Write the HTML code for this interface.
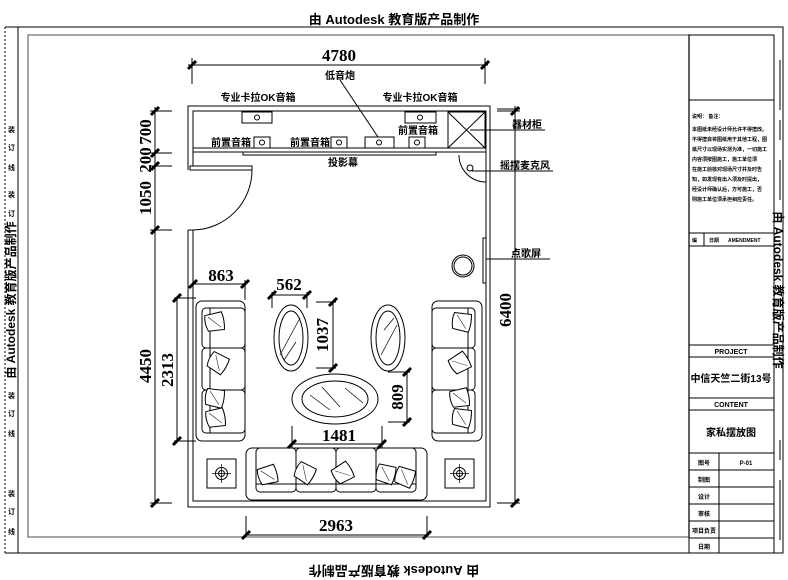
<!DOCTYPE html>
<html><head><meta charset="utf-8"><style>
html,body{margin:0;padding:0;background:#fff;}
svg{display:block;}
text{font-family:"Liberation Sans","Noto Sans CJK SC",sans-serif;font-weight:bold;fill:#000;}
.dim{font-family:"Liberation Serif","Noto Serif CJK SC",serif;font-size:17px;font-weight:bold;}
</style></head><body>
<svg width="788" height="580" viewBox="0 0 788 580" xmlns="http://www.w3.org/2000/svg">
<defs>
<g id="tk"><line x1="-4" y1="4" x2="4" y2="-4" stroke="#000" stroke-width="3"/></g>
<g id="pil"><path d="M-9,-8 L8,-9 Q10,0 8,9 L-8,8 Q-11,0 -9,-8Z" fill="#fff" stroke="#000" stroke-width="1"/><line x1="-6" y1="-6" x2="5" y2="6" stroke="#000" stroke-width="0.5"/></g>
<g id="sq"><rect x="0" y="0" width="29" height="29" fill="none" stroke="#000" stroke-width="1"/><circle cx="14.5" cy="14.5" r="6" fill="none" stroke="#000"/><circle cx="14.5" cy="14.5" r="3" fill="none" stroke="#000"/><line x1="5" y1="14.5" x2="24" y2="14.5" stroke="#000" stroke-width="0.7"/><line x1="14.5" y1="5" x2="14.5" y2="24" stroke="#000" stroke-width="0.7"/></g>
</defs>
<!-- watermark top/bottom -->
<text x="394" y="24" font-size="13" text-anchor="middle">由 Autodesk 教育版产品制作</text>
<text x="394" y="-566" font-size="13" text-anchor="middle" transform="scale(-1,-1) translate(-788,0)">由 Autodesk 教育版产品制作</text>
<!-- outer border -->
<rect x="18" y="27" width="765" height="526" fill="none" stroke="#000" stroke-width="1"/>
<line x1="5" y1="27" x2="5" y2="553" stroke="#000" stroke-dasharray="2,2"/>
<line x1="5" y1="27" x2="18" y2="27" stroke="#000"/>
<line x1="5" y1="553" x2="18" y2="553" stroke="#000"/>
<text font-size="12" transform="translate(15,300) rotate(-90)" text-anchor="middle">由 Autodesk 教育版产品制作</text>
<g font-size="7">
<text x="8" y="132">装</text><text x="8" y="150">订</text><text x="8" y="170">线</text>
<text x="8" y="197">装</text><text x="8" y="216">订</text>
<text x="8" y="398">装</text><text x="8" y="416">订</text><text x="8" y="436">线</text>
<text x="8" y="496">装</text><text x="8" y="514">订</text><text x="8" y="534">线</text>
</g>
<text font-size="12" transform="translate(774,290) rotate(90)" text-anchor="middle">由 Autodesk 教育版产品制作</text>
<g stroke="#000"><line x1="780" y1="60" x2="780" y2="110"/><line x1="780" y1="120" x2="780" y2="140"/><line x1="780" y1="160" x2="780" y2="200"/><line x1="780" y1="440" x2="780" y2="460"/><line x1="780" y1="480" x2="780" y2="540"/></g>
<!-- inner frame -->
<rect x="28" y="35" width="661" height="502" fill="none" stroke="#888" stroke-width="1.5"/>
<!-- title block -->
<g stroke="#000" fill="none" stroke-width="1">
<rect x="689" y="35" width="85" height="518"/>
<line x1="689" y1="100" x2="774" y2="100"/>
<line x1="689" y1="233" x2="774" y2="233"/>
<line x1="689" y1="246" x2="774" y2="246"/>
<line x1="704" y1="233" x2="704" y2="246"/>
<line x1="689" y1="345" x2="774" y2="345"/>
<line x1="689" y1="357" x2="774" y2="357"/>
<line x1="689" y1="398" x2="774" y2="398"/>
<line x1="689" y1="410" x2="774" y2="410"/>
<line x1="689" y1="453" x2="774" y2="453"/>
<line x1="689" y1="470" x2="774" y2="470"/>
<line x1="689" y1="487" x2="774" y2="487"/>
<line x1="689" y1="504" x2="774" y2="504"/>
<line x1="689" y1="521" x2="774" y2="521"/>
<line x1="689" y1="538" x2="774" y2="538"/>
<line x1="719" y1="453" x2="719" y2="553"/>
</g>
<g font-size="5">
<text x="692" y="118">说明： 备注：</text>
<text x="692" y="131">本图纸未经设计师允许不得擅改。</text>
<text x="692" y="141">不得擅自将图纸用于其他工程，图</text>
<text x="692" y="151">纸尺寸以现场实测为准，一切施工</text>
<text x="692" y="161">内容须按图施工，施工单位须</text>
<text x="692" y="171">在施工前核对现场尺寸并及时告</text>
<text x="692" y="181">知，如发现有出入须及时提出，</text>
<text x="692" y="191">经设计师确认后，方可施工，否</text>
<text x="692" y="201">则施工单位须承担相应责任。</text>
<text x="692" y="242">编</text><text x="709" y="242">日期</text><text x="728" y="242">AMENDMENT</text>
</g>
<text x="731" y="354" font-size="7" text-anchor="middle">PROJECT</text>
<text x="731" y="382" font-size="10" text-anchor="middle">中信天竺二街13号</text>
<text x="731" y="407" font-size="7" text-anchor="middle">CONTENT</text>
<text x="731" y="436" font-size="10" text-anchor="middle">家私摆放图</text>
<g font-size="6">
<text x="704" y="465" text-anchor="middle">图号</text><text x="746" y="465" text-anchor="middle">P-01</text>
<text x="704" y="482" text-anchor="middle">制图</text>
<text x="704" y="499" text-anchor="middle">设计</text>
<text x="704" y="516" text-anchor="middle">审核</text>
<text x="704" y="533" text-anchor="middle">项目负责</text>
<text x="704" y="549" text-anchor="middle">日期</text>
</g>
<!-- room walls -->
<g fill="none" stroke="#000" stroke-width="1">
<polyline points="188,170 188,106 490,106 490,507 188,507 188,230"/>
<polyline points="193,166 193,111 486,111 486,501 193,501 193,230"/>
<line x1="188" y1="230" x2="193" y2="230"/>
<!-- door leaf -->
<rect x="190" y="166" width="62" height="4"/>
<path d="M252,170 A60,60 0 0 1 193,230"/>
<!-- cabinet strip -->
<line x1="193" y1="148" x2="486" y2="148"/>
<line x1="193" y1="152" x2="486" y2="152"/>
<rect x="243" y="152" width="193" height="3"/>
<!-- equipment cabinet -->
<rect x="448" y="112" width="37" height="36"/>
<line x1="448" y1="112" x2="485" y2="148"/><line x1="485" y1="112" x2="448" y2="148"/>
<!-- speakers -->
<rect x="242" y="112" width="30" height="11"/><circle cx="257" cy="117.5" r="2.5"/>
<rect x="405" y="112" width="31" height="11"/><circle cx="420" cy="117.5" r="2.5"/>
<rect x="254" y="137" width="16" height="11"/><circle cx="262" cy="142.5" r="2.5"/>
<rect x="331" y="137" width="16" height="11"/><circle cx="339" cy="142.5" r="2.5"/>
<rect x="365" y="137" width="29" height="11"/><circle cx="379" cy="142.5" r="2.5"/>
<rect x="409" y="137" width="16" height="11"/><circle cx="417" cy="142.5" r="2.5"/>
<!-- mic -->
<path d="M459,155 A27,27 0 0 0 486,182"/>
<circle cx="470" cy="168" r="3"/>
<!-- song screen -->
<rect x="483" y="238" width="3" height="45"/>
<circle cx="463" cy="266" r="11"/>
<circle cx="463" cy="266" r="9"/>
<!-- ellipses -->
<ellipse cx="291" cy="338" rx="17" ry="33"/><ellipse cx="291" cy="338" rx="12" ry="27"/>
<ellipse cx="388" cy="338" rx="17" ry="33"/><ellipse cx="388" cy="338" rx="12" ry="27"/>
<ellipse cx="335" cy="399" rx="43" ry="25"/><ellipse cx="335" cy="399" rx="33" ry="18"/>
<line x1="280" y1="355" x2="300" y2="318" stroke-width="0.7"/><line x1="284" y1="360" x2="296" y2="342" stroke-width="0.7"/>
<line x1="381" y1="355" x2="397" y2="325" stroke-width="0.7"/><line x1="384" y1="330" x2="394" y2="318" stroke-width="0.7"/>
<line x1="310" y1="395" x2="330" y2="410" stroke-width="0.7"/><line x1="322" y1="387" x2="340" y2="407" stroke-width="0.7"/><line x1="345" y1="388" x2="363" y2="403" stroke-width="0.7"/>
<!-- left sofa -->
<rect x="196" y="301" width="49" height="140" rx="6"/>
<rect x="202" y="308" width="43" height="40" rx="4"/>
<rect x="202" y="348" width="43" height="42" rx="4"/>
<rect x="202" y="390" width="43" height="43" rx="4"/>
<line x1="210" y1="308" x2="210" y2="433"/>
<!-- right sofa -->
<rect x="432" y="301" width="50" height="140" rx="6"/>
<rect x="432" y="308" width="43" height="40" rx="4"/>
<rect x="432" y="348" width="43" height="42" rx="4"/>
<rect x="432" y="390" width="43" height="43" rx="4"/>
<line x1="468" y1="308" x2="468" y2="433"/>
<!-- bottom sofa -->
<rect x="246" y="448" width="181" height="52" rx="6"/>
<rect x="256" y="448" width="40" height="44" rx="4"/>
<rect x="296" y="448" width="40" height="44" rx="4"/>
<rect x="336" y="448" width="40" height="44" rx="4"/>
<rect x="376" y="448" width="40" height="44" rx="4"/>
<line x1="256" y1="484" x2="416" y2="484"/>
</g>
<use href="#pil" transform="translate(215,322) rotate(-10)"/>
<use href="#pil" transform="translate(218,363) rotate(30)"/>
<use href="#pil" transform="translate(215,398) rotate(10)"/>
<use href="#pil" transform="translate(216,418) rotate(-10)"/>
<use href="#pil" transform="translate(462,322) rotate(10)"/>
<use href="#pil" transform="translate(460,363) rotate(-30)"/>
<use href="#pil" transform="translate(460,398) rotate(-10)"/>
<use href="#pil" transform="translate(462,418) rotate(10)"/>
<use href="#pil" transform="translate(268,475) rotate(-15)"/>
<use href="#pil" transform="translate(305,473) rotate(30)"/>
<use href="#pil" transform="translate(343,473) rotate(-30)"/>
<use href="#pil" transform="translate(386,474) rotate(15)"/>
<use href="#pil" transform="translate(405,477) rotate(20)"/>
<use href="#sq" transform="translate(207,459)"/>
<use href="#sq" transform="translate(445,459)"/>
<!-- dimension lines -->
<g stroke="#000" stroke-width="1" fill="none">
<line x1="188" y1="65" x2="488" y2="65"/><line x1="192" y1="58" x2="192" y2="84"/><line x1="485" y1="58" x2="485" y2="84"/>
<line x1="155" y1="107" x2="155" y2="505"/>
<line x1="150" y1="111" x2="172" y2="111"/><line x1="150" y1="153" x2="172" y2="153"/><line x1="150" y1="166" x2="172" y2="166"/><line x1="150" y1="230" x2="172" y2="230"/><line x1="150" y1="503" x2="172" y2="503"/>
<line x1="515" y1="106" x2="515" y2="505"/><line x1="497" y1="503" x2="520" y2="503"/><line x1="497" y1="111" x2="520" y2="111"/>
<line x1="246" y1="516" x2="246" y2="537"/><line x1="427" y1="516" x2="427" y2="537"/><line x1="244" y1="535" x2="429" y2="535"/>
<line x1="177" y1="298" x2="177" y2="441"/><line x1="174" y1="298" x2="196" y2="298"/><line x1="174" y1="441" x2="196" y2="441"/>
<line x1="193" y1="284" x2="245" y2="284"/><line x1="193" y1="280" x2="193" y2="300"/><line x1="245" y1="280" x2="245" y2="300"/>
<line x1="272" y1="295" x2="307" y2="295"/><line x1="272" y1="292" x2="272" y2="308"/><line x1="307" y1="292" x2="307" y2="308"/>
<line x1="333" y1="302" x2="333" y2="368"/><line x1="316" y1="302" x2="336" y2="302"/><line x1="316" y1="368" x2="336" y2="368"/>
<line x1="407" y1="372" x2="407" y2="422"/><line x1="388" y1="372" x2="410" y2="372"/><line x1="388" y1="422" x2="410" y2="422"/>
<line x1="292" y1="444" x2="382" y2="444"/><line x1="292" y1="426" x2="292" y2="448"/><line x1="382" y1="426" x2="382" y2="448"/>
<!-- leaders -->
<line x1="340" y1="80" x2="378" y2="137"/>
<line x1="470" y1="130" x2="545" y2="130"/>
<line x1="472" y1="171" x2="553" y2="171"/>
<line x1="486" y1="259" x2="550" y2="259"/>
<line x1="497" y1="109" x2="520" y2="109"/>
</g>
<g>
<use href="#tk" x="192" y="65"/><use href="#tk" x="485" y="65"/>
<use href="#tk" x="155" y="111"/><use href="#tk" x="155" y="153"/><use href="#tk" x="155" y="166"/><use href="#tk" x="155" y="230"/><use href="#tk" x="155" y="503"/>
<use href="#tk" x="515" y="111"/><use href="#tk" x="515" y="503"/>
<use href="#tk" x="246" y="535"/><use href="#tk" x="427" y="535"/>
<use href="#tk" x="177" y="298"/><use href="#tk" x="177" y="441"/>
<use href="#tk" x="193" y="284"/><use href="#tk" x="245" y="284"/>
<use href="#tk" x="272" y="295"/><use href="#tk" x="307" y="295"/>
<use href="#tk" x="333" y="302"/><use href="#tk" x="333" y="368"/>
<use href="#tk" x="407" y="372"/><use href="#tk" x="407" y="422"/>
<use href="#tk" x="292" y="444"/><use href="#tk" x="382" y="444"/>
</g>
<g class="dim">
<text class="dim" x="339" y="61" text-anchor="middle">4780</text>
<text class="dim" x="336" y="531" text-anchor="middle">2963</text>
<text class="dim" x="339" y="441" text-anchor="middle">1481</text>
<text class="dim" x="221" y="281" text-anchor="middle">863</text>
<text class="dim" x="289" y="290" text-anchor="middle">562</text>
<text class="dim" transform="translate(328,335) rotate(-90)" text-anchor="middle">1037</text>
<text class="dim" transform="translate(403,397) rotate(-90)" text-anchor="middle">809</text>
<text class="dim" transform="translate(173,370) rotate(-90)" text-anchor="middle">2313</text>
<text class="dim" transform="translate(151,366) rotate(-90)" text-anchor="middle">4450</text>
<text class="dim" transform="translate(151,198) rotate(-90)" text-anchor="middle">1050</text>
<text class="dim" transform="translate(151,160) rotate(-90)" text-anchor="middle">200</text>
<text class="dim" transform="translate(151,132) rotate(-90)" text-anchor="middle">700</text>
<text class="dim" transform="translate(511,310) rotate(-90)" text-anchor="middle">6400</text>
</g>
<g font-size="10">
<text x="340" y="79" text-anchor="middle">低音炮</text>
<text x="258" y="101" text-anchor="middle">专业卡拉OK音箱</text>
<text x="420" y="101" text-anchor="middle">专业卡拉OK音箱</text>
<text x="231" y="146" text-anchor="middle">前置音箱</text>
<text x="310" y="146" text-anchor="middle">前置音箱</text>
<text x="418" y="134" text-anchor="middle">前置音箱</text>
<text x="343" y="166" text-anchor="middle">投影幕</text>
<text x="512" y="128">器材柜</text>
<text x="500" y="169">摇摆麦克风</text>
<text x="511" y="257">点歌屏</text>
</g>
</svg>
</body></html>
